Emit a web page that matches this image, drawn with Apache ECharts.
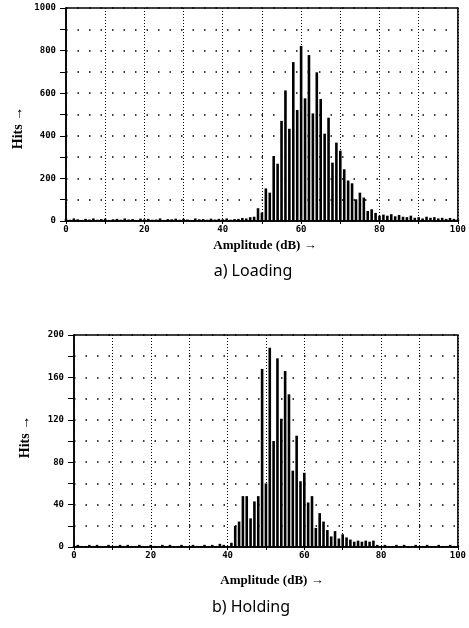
<!DOCTYPE html>
<html><head><meta charset="utf-8">
<script src="https://cdn.jsdelivr.net/npm/echarts@6/dist/echarts.min.js"></script>
<style>html,body{margin:0;padding:0;background:#fff}#c{width:469px;height:628px}</style>
</head><body><div id="c"></div>
<script>
// Amplitude bins (dB)
const amplitudes = Array.from({length: 101}, (_, i) => i);
// a) Loading — hits per dB bin
const loadingHits = [
  10,6,12,8,5,10,7,12,6,9, 11,5,8,10,6,12,7,9,5,11,
  8,10,6,7,12,5,9,8,11,6, 10,7,5,12,8,9,6,11,7,10,
  8,12,6,9,10,14,12,18,20,60,
  40,153,133,305,269,470,613,433,746,521,
  822,576,779,505,698,573,410,485,274,368,
  330,243,190,177,102,133,110,47,55,38,
  25,30,25,32,22,28,20,18,25,15,
  18,12,20,15,18,12,15,10,14,10,8
];
// b) Holding — hits per dB bin
const holdingHits = [
  1,2,1,1,2,1,2,1,1,2, 1,1,2,1,2,1,1,2,1,1,
  2,1,1,2,1,2,1,1,2,1, 1,2,1,1,2,1,2,1,3,2,
  1,4,20,24,48,48,27,43,48,168,
  60,188,100,178,121,166,144,72,105,62,
  70,42,48,18,32,24,16,10,15,8,
  12,9,7,5,6,5,6,5,6,2,
  1,2,1,1,2,1,2,1,1,2,
  1,1,2,1,1,2,1,1,2,1,1
];
const xTicks = [0, 20, 40, 60, 80, 100];
const yTicksLoading = [0, 200, 400, 600, 800, 1000];
const yTicksHolding = [0, 40, 80, 120, 160, 200];

const tickFont = {fontFamily: 'DejaVu Sans Mono', fontWeight: 'bold', fontSize: 9, color: '#000'};
function xAx(gi) {
  return {
    type: 'value', gridIndex: gi, min: 0, max: 100, interval: 10,
    axisLine: {lineStyle: {color: '#000', width: 1.5}},
    axisTick: {inside: false, length: 3, lineStyle: {color: '#000'}},
    axisLabel: Object.assign({margin: 4, formatter: v => xTicks.includes(v) ? String(v) : ''}, tickFont),
    splitLine: {show: true, lineStyle: {color: '#000', type: [1, 2], width: 1}}
  };
}
function yAx(gi, max, ticks) {
  const step = ticks[1] / 2;
  return {
    type: 'value', gridIndex: gi, min: 0, max: max, interval: step,
    axisLine: {show: true, lineStyle: {color: '#000', width: 1.5}},
    axisTick: {show: true, length: 6, lineStyle: {color: '#000'}},
    axisLabel: Object.assign({margin: 10, formatter: v => ticks.includes(v) ? String(v) : ''}, tickFont),
    splitLine: {show: true, lineStyle: {color: '#000', type: [1.5, 10], width: 1.5}}
  };
}
const chart = echarts.init(document.getElementById('c'), null, {renderer: 'canvas'});
chart.setOption({
  animation: false,
  backgroundColor: '#fff',
  grid: [
    {left: 66, top: 8, right: 5, height: 213, show: true, borderColor: '#000', borderWidth: 1.5},
    {left: 74, top: 335, right: 4, height: 212, show: true, borderColor: '#000', borderWidth: 1.5}
  ],
  xAxis: [xAx(0), xAx(1)],
  yAxis: [yAx(0, 1000, yTicksLoading), yAx(1, 200, yTicksHolding)],
  series: [
    {type: 'bar', xAxisIndex: 0, yAxisIndex: 0, barWidth: 2.6,
     itemStyle: {color: '#000'}, data: amplitudes.map((a, i) => [a, loadingHits[i]])},
    {type: 'bar', xAxisIndex: 1, yAxisIndex: 1, barWidth: 2.6,
     itemStyle: {color: '#000'}, data: amplitudes.map((a, i) => [a, holdingHits[i]])}
  ],
  graphic: [
    {type: 'text', x: 18, y: 128, rotation: Math.PI / 2,
     style: {text: 'Hits →', font: 'bold 14px "Liberation Serif"', fill: '#000', align: 'center', verticalAlign: 'middle'}},
    {type: 'text', x: 25, y: 437, rotation: Math.PI / 2,
     style: {text: 'Hits →', font: 'bold 14px "Liberation Serif"', fill: '#000', align: 'center', verticalAlign: 'middle'}},
    {type: 'text', x: 265, y: 246,
     style: {text: 'Amplitude (dB) →', font: 'bold 13px "Liberation Serif"', fill: '#000', align: 'center', verticalAlign: 'middle'}},
    {type: 'text', x: 272, y: 581,
     style: {text: 'Amplitude (dB) →', font: 'bold 13px "Liberation Serif"', fill: '#000', align: 'center', verticalAlign: 'middle'}},
    {type: 'text', x: 253, y: 271,
     style: {text: 'a) Loading', font: '16px "Noto Sans"', fill: '#000', align: 'center', verticalAlign: 'middle'}},
    {type: 'text', x: 251, y: 607,
     style: {text: 'b) Holding', font: '16px "Noto Sans"', fill: '#000', align: 'center', verticalAlign: 'middle'}}
  ]
});
</script>
</body></html>
